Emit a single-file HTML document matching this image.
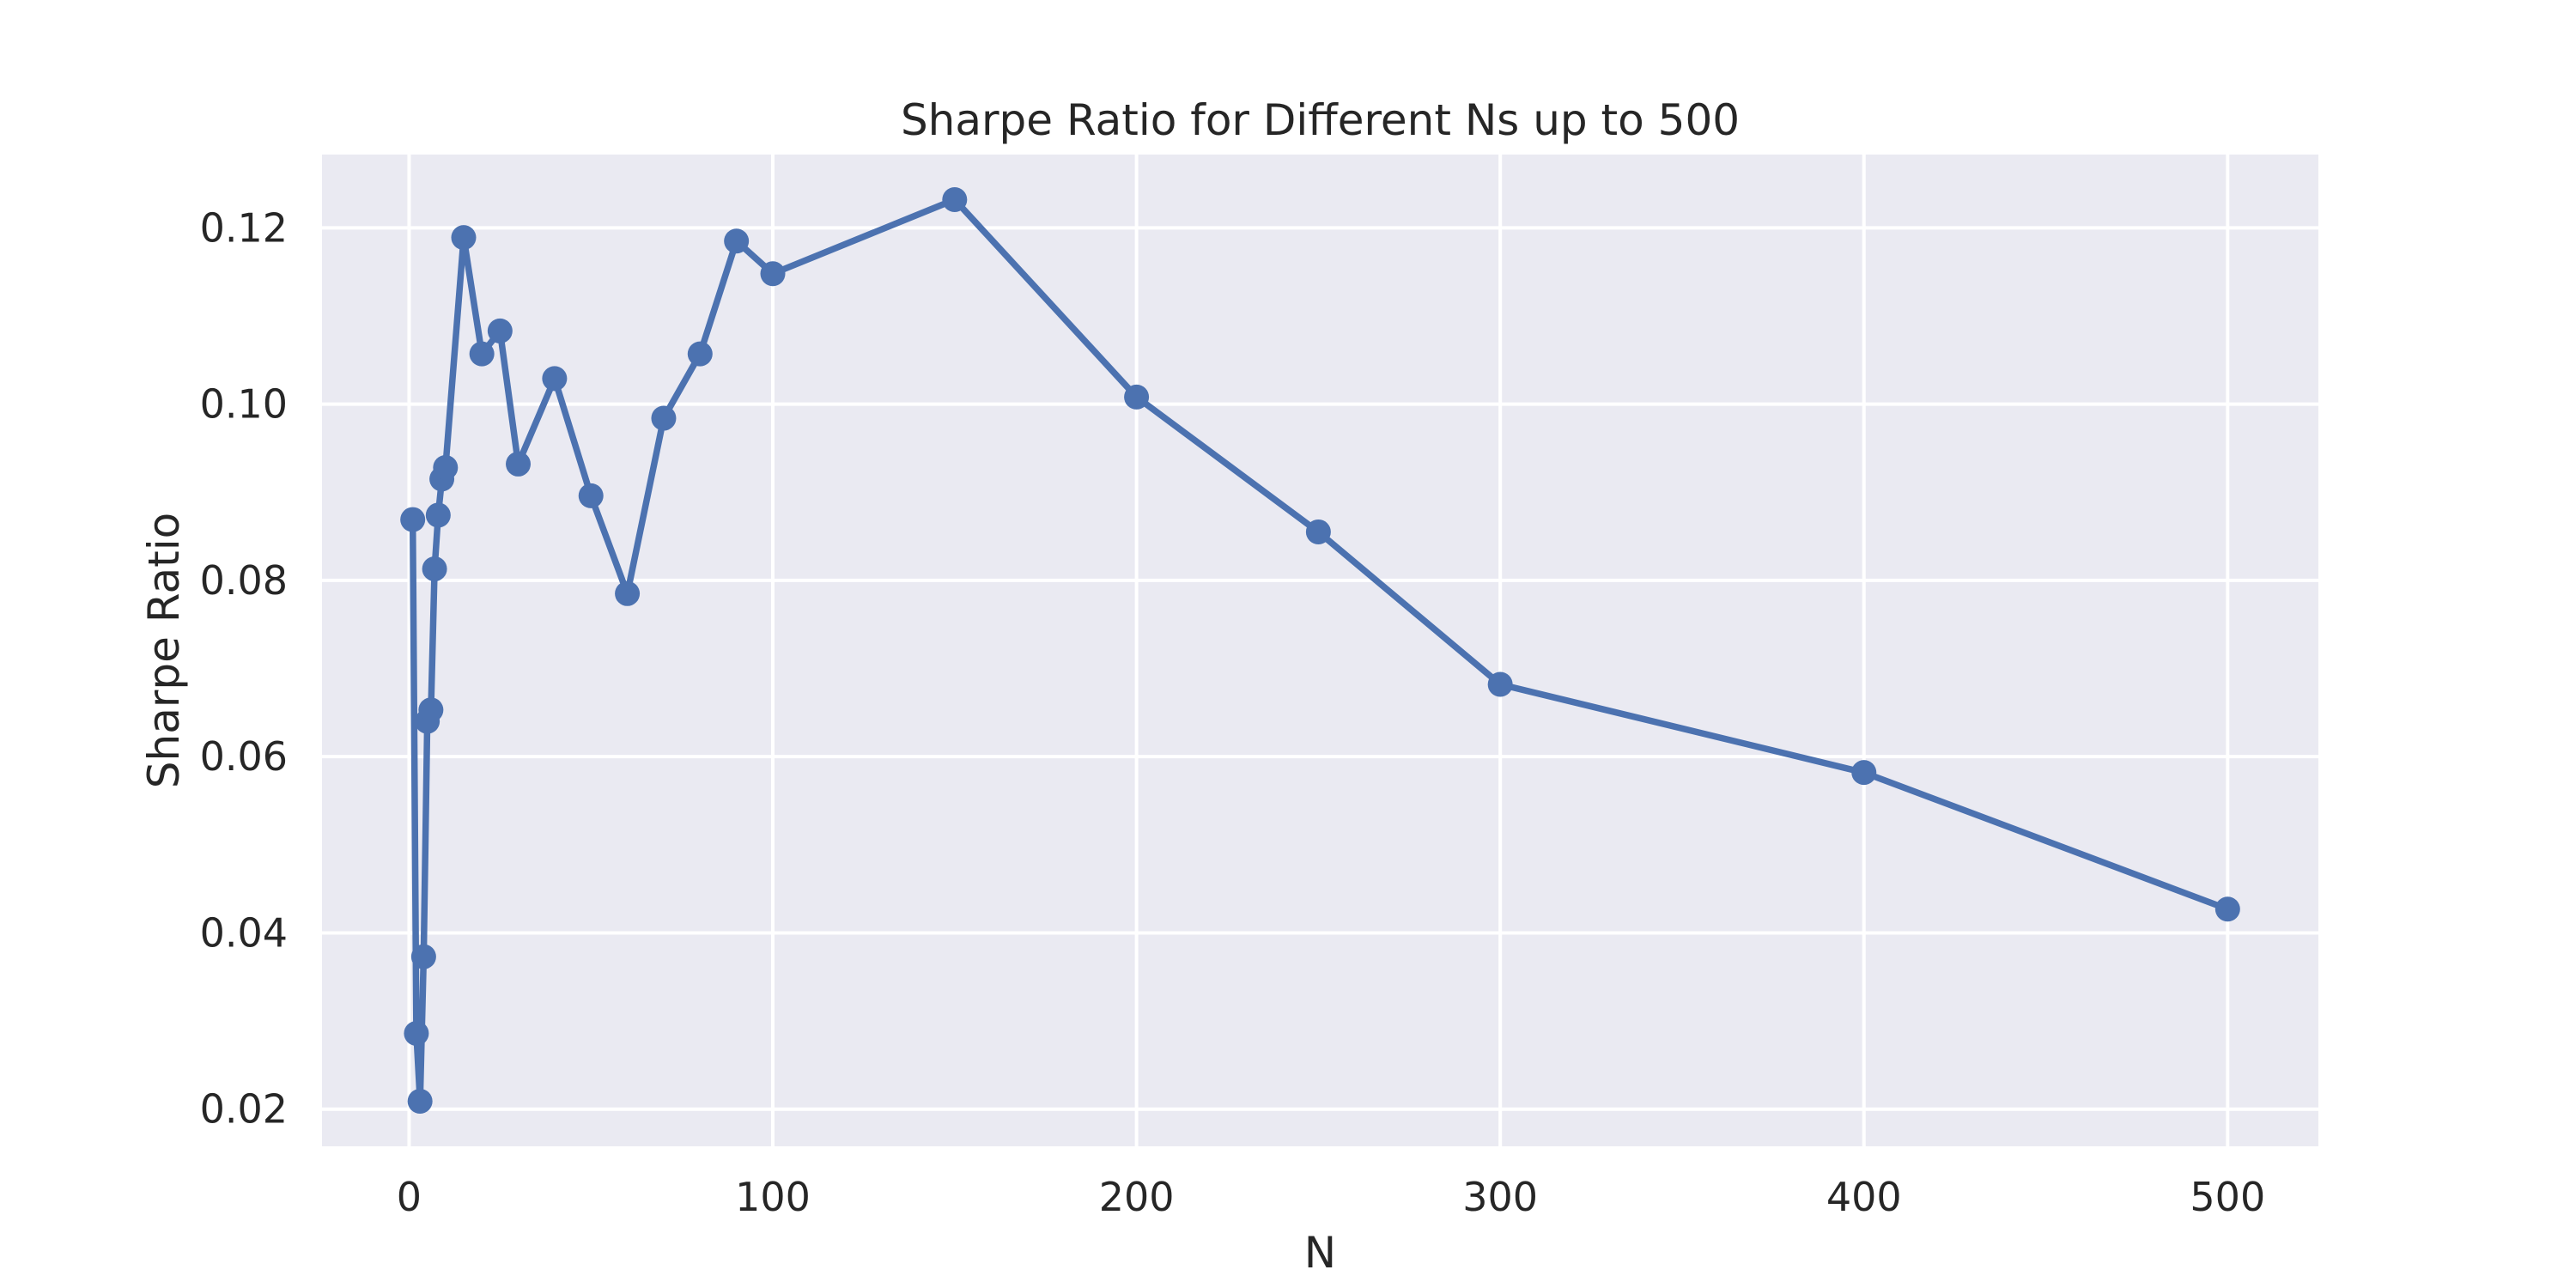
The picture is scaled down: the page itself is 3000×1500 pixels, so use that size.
<!DOCTYPE html>
<html><head><meta charset="utf-8"><style>
html,body{margin:0;padding:0;background:#fff;}
svg{display:block;font-family:"DejaVu Sans","Liberation Sans",sans-serif;}
</style></head><body>
<svg id="chart" width="3000" height="1500" viewBox="0 0 3000 1500" xmlns="http://www.w3.org/2000/svg">
<rect x="0" y="0" width="3000" height="1500" fill="#ffffff"/>
<rect x="375" y="180" width="2325" height="1155" fill="#eaeaf2"/>
<g id="grid"></g>
<g id="series"></g>
<g id="ticks"></g>
<text x="1537.5" y="157" text-anchor="middle" font-size="50" fill="#262626">Sharpe Ratio for Different Ns up to 500</text>
<text x="1537.5" y="1476" text-anchor="middle" font-size="50" fill="#262626">N</text>
<text transform="translate(208,757.5) rotate(-90)" text-anchor="middle" font-size="50" fill="#262626">Sharpe Ratio</text>
</svg>
<script>
const nValues = [1,2,3,4,5,6,7,8,9,10,15,20,25,30,40,50,60,70,80,90,100,150,200,250,300,400,500];
const sharpeValues = [0.0869,0.0286,0.0209,0.0373,0.0640,0.0653,0.0813,0.0874,0.0915,0.0928,0.1189,0.1057,0.1083,0.0932,0.1029,0.0896,0.0785,0.0984,0.1057,0.1185,0.1148,0.1232,0.1008,0.0855,0.0682,0.0582,0.0427];
const xTicks = [0,100,200,300,400,500];
const yTicks = [0.02,0.04,0.06,0.08,0.10,0.12];
const yTickLabels = ["0.02","0.04","0.06","0.08","0.10","0.12"];

const NS = "http://www.w3.org/2000/svg";
const L = 375, R = 2700, T = 180, B = 1335;
const xmin0 = Math.min(...nValues), xmax0 = Math.max(...nValues);
const ymin0 = Math.min(...sharpeValues), ymax0 = Math.max(...sharpeValues);
const xm = (xmax0 - xmin0) * 0.05, ym = (ymax0 - ymin0) * 0.05;
const xlo = xmin0 - xm, xhi = xmax0 + xm, ylo = ymin0 - ym, yhi = ymax0 + ym;
function xs(v){ return L + (v - xlo) / (xhi - xlo) * (R - L); }
function ys(v){ return B - (v - ylo) / (yhi - ylo) * (B - T); }
function mk(tag, attrs){ const e = document.createElementNS(NS, tag); for (const k in attrs) e.setAttribute(k, attrs[k]); return e; }

const grid = document.getElementById('grid');
const ticks = document.getElementById('ticks');
xTicks.forEach(t => {
  const x = xs(t);
  const ln = mk('line', {x1:x, x2:x, y1:T, y2:B, stroke:'#ffffff', 'stroke-width':4});
  
  
  grid.appendChild(ln);
  const tx = mk('text', {x:x, y:1410, 'text-anchor':'middle', 'font-size':46, fill:'#262626'});
  tx.textContent = String(t);
  
  
  ticks.appendChild(tx);
});
yTicks.forEach((t, i) => {
  const y = ys(t);
  const ln = mk('line', {x1:L, x2:R, y1:y, y2:y, stroke:'#ffffff', 'stroke-width':4});
  
  
  grid.appendChild(ln);
  const tx = mk('text', {x:335, y:y + 16, 'text-anchor':'end', 'font-size':46, fill:'#262626'});
  tx.textContent = yTickLabels[i];
  
  
  ticks.appendChild(tx);
});

const series = document.getElementById('series');
const pts = nValues.map((n, i) => xs(n).toFixed(1) + ',' + ys(sharpeValues[i]).toFixed(1)).join(' ');
const pl = mk('polyline', {points:pts, fill:'none', stroke:'#4c72b0', 'stroke-width':7.5, 'stroke-linejoin':'round', 'stroke-linecap':'round'});


series.appendChild(pl);
nValues.forEach((n, i) => {
  const c = mk('circle', {cx:xs(n), cy:ys(sharpeValues[i]), r:14.5, fill:'#4c72b0'});
  
  
  series.appendChild(c);
});
</script>
</body></html>
